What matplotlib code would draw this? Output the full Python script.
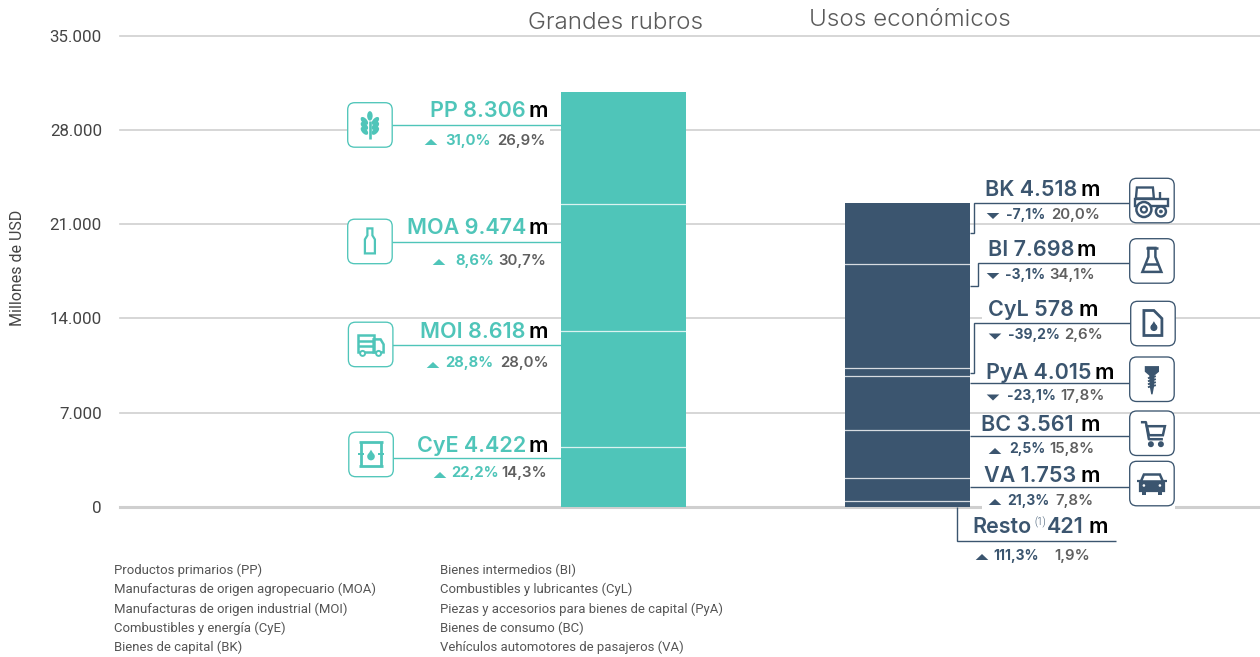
import matplotlib
matplotlib.use("Agg")
import matplotlib.pyplot as plt
from matplotlib.patches import FancyBboxPatch, Polygon, Rectangle, Circle, Ellipse

# ---- data ----
left_names = ["CyE", "MOI", "MOA", "PP"]
left_values = [4422, 8618, 9474, 8306]
left_value_labels = ["4.422", "8.618", "9.474", "8.306"]
left_changes = ["22,2%", "28,8%", "8,6%", "31,0%"]
left_shares = ["14,3%", "28,0%", "30,7%", "26,9%"]

right_names = ["Resto", "VA", "BC", "PyA", "CyL", "BI", "BK"]
right_values = [421, 1753, 3561, 4015, 578, 7698, 4518]
right_value_labels = ["421", "1.753", "3.561", "4.015", "578", "7.698", "4.518"]
right_changes = ["111,3%", "21,3%", "2,5%", "-23,1%", "-39,2%", "-3,1%", "-7,1%"]
right_shares = ["1,9%", "7,8%", "15,8%", "17,8%", "2,6%", "34,1%", "20,0%"]

y_ticks = [0, 7000, 14000, 21000, 28000, 35000]
y_tick_labels = ["0", "7.000", "14.000", "21.000", "28.000", "35.000"]
group_titles = ["Grandes rubros", "Usos económicos"]
y_title = "Millones de USD"
legend_col1 = ["Productos primarios (PP)", "Manufacturas de origen agropecuario (MOA)",
               "Manufacturas de origen industrial (MOI)", "Combustibles y energía (CyE)",
               "Bienes de capital (BK)"]
legend_col2 = ["Bienes intermedios (BI)", "Combustibles y lubricantes (CyL)",
               "Piezas y accesorios para bienes de capital (PyA)", "Bienes de consumo (BC)",
               "Vehículos automotores de pasajeros (VA)"]

TEAL = "#4FC5B9"
NAVY = "#3B556F"
GREY = "#5F5F5F"
GRID = "#CFCFCF"
MAIN = "Inter"
LBL = "Roboto"
W, H = 1260, 657

fig = plt.figure(figsize=(W / 100, H / 100), dpi=100, facecolor="white")

# data axes
ax = fig.add_axes([120 / W, 1 - 507 / H, (W - 120) / W, (507 - 35.5) / H])
ax.set_xlim(120, 1260)
ax.set_ylim(0, 35000)
for s in ax.spines.values():
    s.set_visible(False)
ax.set_yticks(y_ticks)
ax.set_yticklabels(y_tick_labels, fontname=LBL, fontsize=12.2, color="#444444")
ax.tick_params(axis="y", length=0, pad=13)
ax.set_xticks([])
ax.set_axisbelow(True)
ax.grid(axis="y", color=GRID, lw=1.2, zorder=0)
ax.get_ygridlines()[0].set_linewidth(2.2)
for g in ax.get_ygridlines():
    g.set_clip_on(False)
for lab in ax.get_yticklabels():
    lab.set_y(lab.get_position()[1])


def stack(center, values, color):
    b = 0
    for v in values:
        ax.bar(center, v, width=125, bottom=b, color=color, edgecolor="none", zorder=2)
        if b:
            ax.plot([center - 62.5, center + 62.5], [b, b], color="white", lw=0.9, alpha=.8, zorder=3)
        b += v


stack(623.5, left_values, TEAL)
stack(907.5, right_values, NAVY)

# overlay in pixel space
ov = fig.add_axes([0, 0, 1, 1], facecolor="none")
ov.set_xlim(0, W)
ov.set_ylim(H, 0)
ov.axis("off")


def T(x, y, s, ha="left", **kw):
    kw.setdefault("family", MAIN)
    ov.text(x, y, s, ha=ha, va="center", **kw)


def L(xs, ys, c, lw=1.0, z=3):
    ov.plot(xs, ys, color=c, lw=lw, solid_capstyle="butt", solid_joinstyle="miter", zorder=z)


def mask(x0, y0, x1, y1):
    ov.add_patch(Rectangle((x0, y0), x1 - x0, y1 - y0, fc="white", ec="none", zorder=1))


def tri(x, y, up, c):
    w, h = 6.3, 3.0
    pts = [(x - w, y + h), (x + w, y + h), (x, y - h)] if up else [(x - w, y - h), (x + w, y - h), (x, y + h)]
    ov.add_patch(Polygon(pts, fc=c, ec="none", zorder=5))


def box(x0, y0, c, s=44.5):
    ov.add_patch(FancyBboxPatch((x0 + 6, y0 + 6), s - 12, s - 12, boxstyle="round,pad=6,rounding_size=7",
                                fc="white", ec=c, lw=0.95, zorder=4, mutation_aspect=1))


def P(pts, c, fill=False, lw=1.6):
    ov.add_patch(Polygon(pts, closed=True, fc=c if fill else "none", ec=c, lw=lw, zorder=5))


def Ln(xs, ys, c, lw=1.6):
    ov.plot(xs, ys, color=c, lw=lw, zorder=5, solid_capstyle="butt")


def Cc(x, y, r, c, fill=True, lw=1.4):
    ov.add_patch(Circle((x, y), r, fc=c if fill else "white", ec=c, lw=lw, zorder=6))


def drop(x, y, r, c):
    Cc(x, y + r * .3, r, c, True, 0)
    P([(x - r * .9, y), (x, y - r * 1.5), (x + r * .9, y)], c, True, 0)


def ic_wheat(cx, cy, c):
    Ln([cx, cx], [cy - 4, cy + 14], c, 1.9)
    ov.add_patch(Ellipse((cx, cy - 9), 5.5, 9.5, fc=c, ec="none", zorder=5))
    for dy in (-4, 1, 6):
        ov.add_patch(Ellipse((cx - 5.5, cy + dy), 5.2, 9.5, angle=-42, fc=c, ec="none", zorder=5))
        ov.add_patch(Ellipse((cx + 5.5, cy + dy), 5.2, 9.5, angle=42, fc=c, ec="none", zorder=5))


def ic_bottle(cx, cy, c):
    P([(cx - 2.5, cy - 13), (cx + 2.5, cy - 13), (cx + 2.5, cy - 6), (cx + 5, cy - 2), (cx + 5, cy + 12),
       (cx - 5, cy + 12), (cx - 5, cy - 2), (cx - 2.5, cy - 6)], c)


def ic_truck(cx, cy, c):
    ov.add_patch(Rectangle((cx - 13, cy - 9), 16, 17, fc="white", ec=c, lw=1.8, zorder=5))
    Ln([cx - 13, cx + 3], [cy - 3, cy - 3], c, 1.8)
    Ln([cx - 13, cx + 3], [cy + 2, cy + 2], c, 1.8)
    P([(cx + 3, cy - 5), (cx + 10, cy - 5), (cx + 13, cy), (cx + 13, cy + 8), (cx + 3, cy + 8)], c, lw=1.8)
    Cc(cx - 8, cy + 9, 2.5, c, False)
    Cc(cx + 8, cy + 9, 2.5, c, False)


def ic_barrel(cx, cy, c):
    ov.add_patch(Rectangle((cx - 10, cy - 13), 20, 26, fc="white", ec="none", zorder=5))
    Ln([cx - 12, cx + 12], [cy - 12, cy - 12], c, 2)
    Ln([cx - 12, cx + 12], [cy + 12, cy + 12], c, 2)
    Ln([cx - 10, cx - 10], [cy - 12, cy + 12], c, 2)
    Ln([cx + 10, cx + 10], [cy - 12, cy + 12], c, 2)
    Ln([cx - 13, cx - 7], [cy, cy], c, 1.4)
    Ln([cx + 7, cx + 13], [cy, cy], c, 1.4)
    drop(cx, cy + 1, 3.8, c)


def ic_tractor(cx, cy, c):
    P([(cx - 15, cy - 13), (cx + 1, cy - 13), (cx + 2, cy - 2), (cx - 16, cy - 2)], c, lw=1.7)
    P([(cx - 17, cy - 2), (cx + 16, cy - 2), (cx + 16, cy + 5), (cx - 17, cy + 5)], c, lw=1.7)
    Ln([cx + 8, cx + 8], [cy - 9, cy - 2], c, 1.7)
    Cc(cx - 8, cy + 9, 7.5, c, False, 1.8)
    Cc(cx - 8, cy + 9, 3, c, False, 1.6)
    Cc(cx + 9, cy + 11, 5, c, False, 1.8)
    Cc(cx + 9, cy + 11, 1.5, c, True, 0.5)


def ic_flask(cx, cy, c):
    Ln([cx - 6, cx + 6], [cy - 13, cy - 13], c, 1.8)
    P([(cx - 3.5, cy - 13), (cx + 3.5, cy - 13), (cx + 3.5, cy - 4), (cx + 9.5, cy + 11), (cx - 9.5, cy + 11),
       (cx - 3.5, cy - 4)], c, lw=1.8)
    Ln([cx - 6.5, cx + 6.5], [cy + 3, cy + 3], c, 1.8)


def ic_can(cx, cy, c):
    P([(cx - 9, cy - 13), (cx + 1, cy - 13), (cx + 9, cy - 5), (cx + 9, cy + 12), (cx - 9, cy + 12)], c, lw=2)
    drop(cx + 1, cy + 3, 3.5, c)


def ic_screw(cx, cy, c):
    P([(cx - 6, cy - 12), (cx + 6, cy - 12), (cx + 6, cy - 8), (cx + 2.5, cy - 5), (cx - 2.5, cy - 5),
       (cx - 6, cy - 8)], c, True)
    P([(cx - 2, cy - 5), (cx + 2, cy - 5), (cx + 1.5, cy + 7), (cx, cy + 15), (cx - 1.5, cy + 7)], c, True, 1)
    for d in (-2, 1, 4, 7):
        Ln([cx - 4, cx + 4], [cy + d + 1, cy + d - 1], c, 1.3)


def ic_cart(cx, cy, c):
    Ln([cx - 11, cx - 6, cx - 3, cx + 11], [cy - 11, cy - 11, cy + 6, cy + 6], c, 1.8)
    P([(cx - 5, cy - 7), (cx + 13, cy - 7), (cx + 11, cy + 2), (cx - 3, cy + 2)], c, lw=1.8)
    Cc(cx - 1, cy + 11, 2, c)
    Cc(cx + 9, cy + 11, 2, c)


def ic_car(cx, cy, c):
    P([(cx - 8, cy - 9), (cx + 8, cy - 9), (cx + 11, cy - 2), (cx - 11, cy - 2)], c, False, 1.8)
    P([(cx - 12, cy - 2), (cx + 12, cy - 2), (cx + 12, cy + 7), (cx - 12, cy + 7)], c, True)
    Ln([cx - 15, cx - 11], [cy - 3, cy - 3], c)
    Ln([cx + 11, cx + 15], [cy - 3, cy - 3], c)
    ov.add_patch(Rectangle((cx - 10, cy + 7), 4, 4, fc=c, ec="none", zorder=5))
    ov.add_patch(Rectangle((cx + 6, cy + 7), 4, 4, fc=c, ec="none", zorder=5))
    Cc(cx - 8, cy + 2, 1.3, "white", True, 0)
    Cc(cx + 8, cy + 2, 1.3, "white", True, 0)


def row(name, val, change, share, color, right, my, mx,
        tx, ty, cx0, sx1, up, fs=15.5, ch_fs=10.6):
    T(right, my + 1, f"{name} {val}", ha="right", color=color, weight=600, fontsize=fs)
    T(mx, my + 1, "m", color="black", weight=600, fontsize=fs)
    tri(tx, ty, up, color)
    T(cx0, ty - 1.5, change, color=color, weight=700, fontsize=ch_fs)
    T(sx1, ty - 1.5, share, ha="right", color=GREY, weight=600, fontsize=10.8)


# white panels interrupting gridlines
mask(392, 104, 550, 146)
mask(392, 219, 547, 264)
mask(982, 312, 1130, 330)
mask(982, 504, 1175, 512)

# left group
left_cfg = {
    "PP": dict(right=526, my=110, mx=528, tx=431, ty=142, cx0=445, sx1=546, line=124.7, box=(347.7, 102.7), ic=ic_wheat),
    "MOA": dict(right=526, my=227, mx=528, tx=439, ty=262, cx0=455, sx1=546, line=242.3, box=(347.7, 219.2), ic=ic_bottle),
    "MOI": dict(right=526, my=331, mx=528, tx=433, ty=365, cx0=445, sx1=549, line=345, box=(348.4, 322.2), ic=ic_truck),
    "CyE": dict(right=526, my=445, mx=528, tx=440, ty=475, cx0=451, sx1=547, line=457.5, box=(348.8, 432.2), ic=ic_barrel),
}
for n, v, ch, sh in zip(left_names, left_value_labels, left_changes, left_shares):
    c = left_cfg[n]
    L([c["box"][0] + 44, 561], [c["line"]] * 2, TEAL)
    box(*c["box"], TEAL)
    c["ic"](c["box"][0] + 22.2, c["box"][1] + 22.2, TEAL)
    row(n, v, ch, sh, TEAL, c["right"], c["my"], c["mx"], c["tx"], c["ty"], c["cx0"], c["sx1"], True)

# right group
right_cfg = {
    "BK": dict(right=1077, my=189, mx=1081, tx=993, ty=216, cx0=1006, sx1=1100, box=(1129.7, 178.3), ic=ic_tractor,
               lx=[970, 974, 974, 1130], ly=[232.7, 232.7, 203.3, 203.3]),
    "BI": dict(right=1074, my=249, mx=1077, tx=993, ty=276, cx0=1005, sx1=1095, box=(1129.7, 238.7), ic=ic_flask,
               lx=[970, 977.5, 977.5, 1130], ly=[286, 286, 263.3, 263.3]),
    "CyL": dict(right=1074, my=309, mx=1078, tx=995, ty=336.5, cx0=1008, sx1=1103, box=(1130.7, 301.3), ic=ic_can,
                lx=[970, 974, 974, 1131], ly=[372.7, 372.7, 323.3, 323.3]),
    "PyA": dict(right=1092, my=372, mx=1095, tx=993, ty=397.5, cx0=1007, sx1=1105, box=(1129.7, 357), ic=ic_screw,
                lx=[970, 1130], ly=[383, 383]),
    "BC": dict(right=1074, my=424, mx=1081, tx=995, ty=451, cx0=1009, sx1=1094, box=(1129.7, 411), ic=ic_cart,
               lx=[970, 1130], ly=[436.3, 436.3]),
    "VA": dict(right=1076, my=475, mx=1080, tx=995, ty=502, cx0=1007, sx1=1094, box=(1129.7, 461.3), ic=ic_car,
               lx=[970, 1130], ly=[487, 487]),
}
for n, v, ch, sh in zip(right_names, right_value_labels, right_changes, right_shares):
    up = not ch.startswith("-")
    if n == "Resto":
        L([956.5, 956.5, 1116], [507, 541, 541], NAVY)
        T(1032, 527, n, ha="right", color=NAVY, weight=600, fontsize=15.5)
        T(1034, 522, "(1)", color=NAVY, weight=300, fontsize=7, family=LBL)
        T(1084, 527, v, ha="right", color=NAVY, weight=600, fontsize=15.5)
        T(1089, 527, "m", color="black", weight=600, fontsize=15.5)
        tri(982, 557, True, NAVY)
        T(993, 556, ch, color=NAVY, weight=700, fontsize=10)
        T(1090, 556, sh, ha="right", color=GREY, weight=600, fontsize=10.8)
        continue
    c = right_cfg[n]
    L(c["lx"], c["ly"], NAVY)
    box(*c["box"], NAVY)
    c["ic"](c["box"][0] + 22.2, c["box"][1] + 22.2, NAVY)
    row(n, v, ch, sh, NAVY, c["right"], c["my"], c["mx"], c["tx"], c["ty"], c["cx0"], c["sx1"], up, ch_fs=10)

# titles
T(616, 23, group_titles[0], ha="center", color="#5A5A5A", weight=300, fontsize=17.4)
T(910, 20, group_titles[1], ha="center", color="#5A5A5A", weight=300, fontsize=17.4)
ov.text(18, 267.5, y_title, rotation=90, ha="center", va="center", family=LBL, fontsize=11.5, color="#444444")

# legend text
for i, (a, b) in enumerate(zip(legend_col1, legend_col2)):
    y = 570 + i * 19.4
    T(114, y, a, color="#555555", family=LBL, fontsize=9.42)
    T(440, y, b, color="#555555", family=LBL, fontsize=9.42)

fig.savefig("out.png", dpi=100, facecolor="white")
